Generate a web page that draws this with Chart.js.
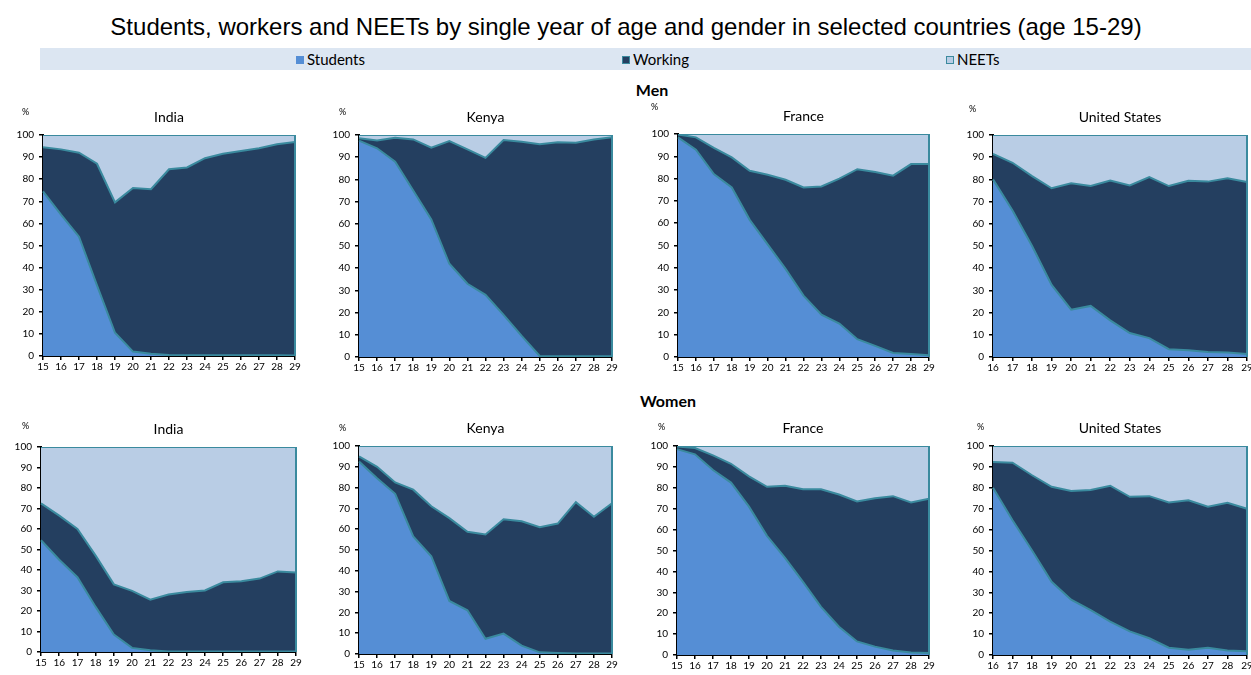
<!DOCTYPE html>
<html>
<head>
<meta charset="utf-8">
<script src="https://cdn.jsdelivr.net/npm/chart.js@4.4.0/dist/chart.umd.min.js"></script>
<style>
  body { margin: 0; width: 1251px; height: 675px; overflow: hidden; background: #fff; position: relative; font-family: Lato, sans-serif; }
  #title { position: absolute; left: 0; width: 1252px; top: 15px; line-height: 24px; text-align: center; font-family: "Liberation Sans", Arial, sans-serif; font-size: 24px; color: #000; white-space: nowrap; }
  #legend { position: absolute; left: 40px; top: 48px; width: 1211px; height: 22px; background: #DCE6F2; }
  .item { position: absolute; top: 3px; font-size: 15px; line-height: 16px; color: #000; }
  .sw { display: inline-block; width: 8px; height: 8px; margin-right: 3px; vertical-align: 1px; box-sizing: border-box; }
  .sect { position: absolute; font-weight: bold; font-size: 16px; color: #000; transform: translateX(-50%); }
  .ptitle { position: absolute; font-size: 14px; color: #000; transform: translateX(-50%); white-space: nowrap; }
  .pct { position: absolute; font-size: 9px; color: #000; }
  canvas { position: absolute; }
</style>
</head>
<body>
<div id="title">Students, workers and NEETs by single year of age and gender in selected countries (age 15-29)</div>
<div id="legend">
  <div class="item" style="left:256px"><span class="sw" style="background:#558ED5"></span>Students</div>
  <div class="item" style="left:582px"><span class="sw" style="background:#243F60;border:1px solid #3A8A9E"></span>Working</div>
  <div class="item" style="left:906px"><span class="sw" style="background:#B9CDE5;border:1px solid #3A8A9E"></span>NEETs</div>
</div>
<div class="sect" style="left:652px;top:80px">Men</div>
<div class="sect" style="left:668px;top:391px">Women</div>
<script>
const ages = ["15", "16", "17", "18", "19", "20", "21", "22", "23", "24", "25", "26", "27", "28", "29"];
const agesUS = ["16", "17", "18", "19", "20", "21", "22", "23", "24", "25", "26", "27", "28", "29"];
const yTicks = [0, 10, 20, 30, 40, 50, 60, 70, 80, 90, 100];

// Men
const menIndiaStudents = [74.5, 64, 54, 32, 10.5, 2, 1, 0.5, 0.3, 0.3, 0.3, 0.3, 0.3, 0.3, 0.2];
const menIndiaWorking = [20, 29.5, 38, 55, 59, 74, 74.5, 84, 85, 89.2, 91.2, 92.5, 93.7, 95.5, 96.6];
const menIndiaNeets = [5.5, 6.5, 8, 13, 30.5, 24, 24.5, 15.5, 14.7, 10.5, 8.5, 7.2, 6, 4.2, 3.2];

const menKenyaStudents = [97.5, 94, 88, 75, 62, 42, 33, 28, 19, 9.5, 0.5, 0.3, 0.3, 0.3, 0.3];
const menKenyaWorking = [1, 3.5, 10.8, 23, 32.3, 55.3, 60.5, 61.7, 78.7, 87.5, 95.3, 96.4, 96.2, 97.7, 98.7];
const menKenyaNeets = [1.5, 2.5, 1.2, 2, 5.7, 2.7, 6.5, 10.3, 2.3, 3, 4.2, 3.3, 3.5, 2, 1];

const menFranceStudents = [98.5, 93, 82, 76, 61.5, 50.5, 39.5, 27.5, 19, 15, 8, 5, 1.8, 1.3, 0.8];
const menFranceWorking = [1.3, 5.5, 11.8, 13.5, 22, 31.2, 40, 48.5, 57.5, 65, 76.2, 78, 79.5, 85.2, 85.7];
const menFranceNeets = [0.2, 1.5, 6.2, 10.5, 16.5, 18.3, 20.5, 24, 23.5, 20, 15.8, 17, 18.7, 13.5, 13.5];

const menUSStudents = [80, 66, 50, 32.5, 21.3, 23, 16.5, 10.8, 8.5, 3.5, 3, 2.3, 2, 1.3];
const menUSWorking = [11.5, 21.5, 31.5, 43.5, 57, 54, 63, 66.5, 72.5, 73.5, 76.4, 76.7, 78.5, 77.5];
const menUSNeets = [8.5, 12.5, 18.5, 24, 21.7, 23, 20.5, 22.7, 19, 23, 20.6, 21, 19.5, 21.2];

// Women
const womenIndiaStudents = [54.5, 45, 36.5, 22, 8.5, 2, 0.8, 0.3, 0.3, 0.3, 0.3, 0.3, 0.3, 0.3, 0.3];
const womenIndiaWorking = [18, 21.5, 23.5, 25, 24.5, 27.8, 24.7, 27.7, 29, 29.7, 33.7, 34.2, 35.5, 39, 38.5];
const womenIndiaNeets = [27.5, 33.5, 40, 53, 67, 70.2, 74.5, 72, 70.7, 70, 66, 65.5, 64.2, 60.7, 61.2];

const womenKenyaStudents = [92.5, 84.5, 77, 56.5, 47, 25.5, 21, 7.3, 9.8, 4, 0.8, 0.5, 0.3, 0.2, 0.2];
const womenKenyaWorking = [2.5, 5.5, 5.5, 22.5, 24, 39.8, 37.8, 50.2, 55, 59.8, 60.2, 62.2, 72.7, 65.8, 72.3];
const womenKenyaNeets = [5, 10, 17.5, 21, 29, 34.7, 41.2, 42.5, 35.2, 36.2, 39, 37.3, 27, 34, 27.5];

const womenFranceStudents = [98.5, 96, 88.5, 82.5, 71, 57, 46.5, 35, 23, 13.5, 6.5, 4, 2.2, 1.2, 1];
const womenFranceWorking = [1.3, 3, 7, 9, 14.5, 23.5, 34.5, 44.3, 56.3, 63.3, 67, 71, 73.8, 71.8, 73.8];
const womenFranceNeets = [0.2, 1, 4.5, 8.5, 14.5, 19.5, 19, 20.7, 20.7, 23.2, 26.5, 25, 24, 27, 25.2];

const womenUSStudents = [80, 64.5, 50, 35, 26.5, 21.5, 16, 11.3, 8, 3.5, 2.5, 3.5, 2.2, 1.8];
const womenUSWorking = [12.3, 27.5, 36, 45.5, 52, 57.5, 65, 64.4, 68, 69.5, 71.5, 67.5, 70.6, 68.2];
const womenUSNeets = [7.7, 8, 14, 19.5, 21.5, 21, 19, 24.3, 24, 27, 26, 29, 27.2, 30];

const teal = "#3A8A9E";
const colStudents = "#558ED5";
const colWorking = "#243F60";
const colNeets = "#B9CDE5";

// plot area boxes (left, top, right, bottom) in page pixels
const panels = [
  { name: "India", labels: ages, s: menIndiaStudents, w: menIndiaWorking, n: menIndiaNeets, box: [43, 132, 295, 356], pct: [22, 106] },
  { name: "Kenya", labels: ages, s: menKenyaStudents, w: menKenyaWorking, n: menKenyaNeets, box: [359, 132, 612, 357], pct: [339, 106] },
  { name: "France", labels: ages, s: menFranceStudents, w: menFranceWorking, n: menFranceNeets, box: [678, 131, 929, 357], pct: [651, 101] },
  { name: "United States", labels: agesUS, s: menUSStudents, w: menUSWorking, n: menUSNeets, box: [993, 132, 1247, 357], pct: [969, 103] },
  { name: "India", labels: ages, s: womenIndiaStudents, w: womenIndiaWorking, n: womenIndiaNeets, box: [41, 444, 296, 652], pct: [22, 420] },
  { name: "Kenya", labels: ages, s: womenKenyaStudents, w: womenKenyaWorking, n: womenKenyaNeets, box: [359, 443, 612, 654], pct: [339, 422] },
  { name: "France", labels: ages, s: womenFranceStudents, w: womenFranceWorking, n: womenFranceNeets, box: [677, 443, 929, 655], pct: [658, 421] },
  { name: "United States", labels: agesUS, s: womenUSStudents, w: womenUSWorking, n: womenUSNeets, box: [993, 443, 1247, 655], pct: [977, 421] }
];

const edgeLine = {
  id: "edgeLine",
  afterDatasetsDraw(chart) {
    const a = chart.chartArea, ctx = chart.ctx;
    ctx.save();
    ctx.strokeStyle = teal;
    ctx.lineWidth = 2;
    ctx.beginPath();
    ctx.moveTo(a.right, a.top);
    ctx.lineTo(a.right, a.bottom);
    ctx.stroke();
    ctx.restore();
  }
};

const yW = 32, xH = 24, padTop = 8, padRight = 10;

panels.forEach(p => {
  const [l, t, r, b] = p.box;
  const cv = document.createElement("canvas");
  const cw = (r - l) + yW + padRight, ch = (b - t) + padTop + xH;
  cv.width = cw; cv.height = ch;
  cv.style.left = (l - yW) + "px";
  cv.style.top = (t - padTop) + "px";
  cv.style.width = cw + "px"; cv.style.height = ch + "px";
  document.body.appendChild(cv);

  const ttl = document.createElement("div");
  ttl.className = "ptitle";
  ttl.textContent = p.name;
  ttl.style.left = ((l + r) / 2) + "px";
  ttl.style.top = (t - 24) + "px";
  document.body.appendChild(ttl);

  const pc = document.createElement("div");
  pc.className = "pct";
  pc.textContent = "%";
  pc.style.left = p.pct[0] + "px";
  pc.style.top = p.pct[1] + "px";
  document.body.appendChild(pc);

  const ds = (label, data, color, fill) => ({
    label: label, data: data, backgroundColor: color, borderColor: teal,
    borderWidth: 2, pointRadius: 0, tension: 0, fill: fill
  });

  new Chart(cv, {
    type: "line",
    data: {
      labels: p.labels,
      datasets: [
        ds("Students", p.s, colStudents, "origin"),
        ds("Working", p.w, colWorking, "-1"),
        ds("NEETs", p.n, colNeets, "-1")
      ]
    },
    options: {
      responsive: false,
      animation: false,
      devicePixelRatio: 1,
      layout: { padding: { top: padTop, right: padRight, left: 0, bottom: 0 } },
      plugins: { legend: { display: false }, tooltip: { enabled: false } },
      scales: {
        x: {
          offset: false,
          z: 1,
          grid: { drawOnChartArea: false, color: "#000", lineWidth: 1.5, tickLength: 4 },
          border: { color: "#000", width: 2 },
          ticks: { color: "#000", font: { family: "Lato", size: 10 }, maxRotation: 0, autoSkip: false, padding: 1 },
          afterFit: s => { s.height = xH; }
        },
        y: {
          stacked: true,
          min: 0, max: 100,
          z: 1,
          afterBuildTicks: s => { s.ticks = yTicks.map(v => ({ value: v })); },
          grid: { drawOnChartArea: false, color: "#000", lineWidth: 1.5, tickLength: 4 },
          border: { color: "#000", width: 2 },
          ticks: { color: "#000", font: { family: "Lato", size: 10 }, padding: 5 },
          afterFit: s => { s.width = yW; }
        }
      }
    },
    plugins: [edgeLine]
  });
});
</script>
</body>
</html>
